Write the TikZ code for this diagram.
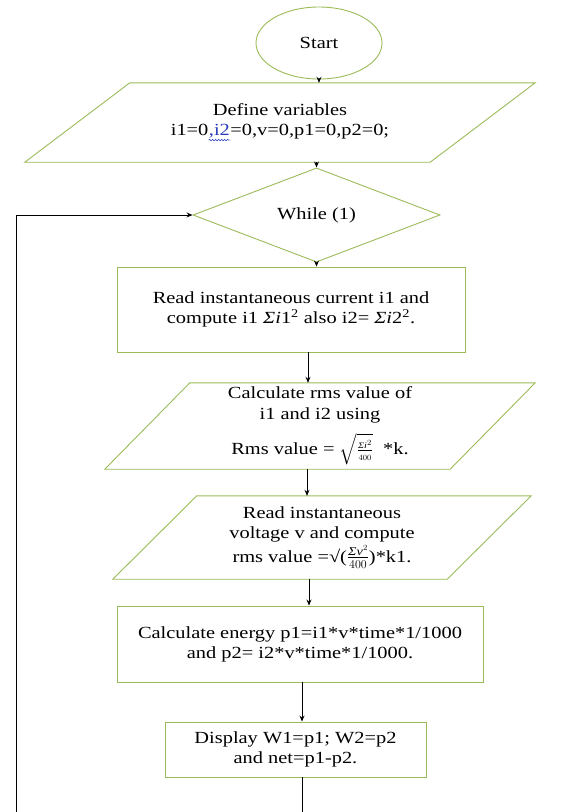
\documentclass[tikz,border=0pt]{standalone}
\usepackage{amsmath}
\usepackage{fontspec}
\setmainfont[FakeStretch=1.2]{Liberation Serif}
\usetikzlibrary{shapes.geometric,arrows.meta,decorations.pathmorphing}
\definecolor{boxgreen}{RGB}{155,187,89}
\definecolor{spellblue}{RGB}{40,60,190}

\tikzset{
  shapeline/.style={draw=boxgreen, line width=0.9pt},
  box/.style={shapeline, rectangle, align=center, inner sep=0pt},
  paratext/.style={rectangle, align=center, inner sep=0pt},
  arr/.style={-{Stealth[length=6pt,width=5pt]}, line width=0.9pt},
  spellword/.style={rectangle, draw=none, inner sep=0pt, minimum width=0pt, minimum height=0pt, text=spellblue},
  squiggle/.style={draw=spellblue, line width=0.6pt, decorate, decoration={snake, amplitude=0.8pt, segment length=3pt}}
}

\begin{document}
\begin{tikzpicture}[x=1pt, y=-1pt, font=\fontsize{17}{20}\selectfont]
    \useasboundingbox (0,0) rectangle (566,812);
    % Nodes
    \node[shapeline, ellipse, minimum width=126pt, minimum height=72pt] (start) at (319,43) {Start};
    \node[paratext, minimum width=405pt, minimum height=79pt] (define) at (280,122.5) {Define variables\\ i1=0\tikz[baseline=(sp.base)]{\node[spellword] (sp) {,i2}; \draw[squiggle] ([yshift=-1.5pt]sp.south west) -- ([yshift=-1.5pt]sp.south east);}=0,v=0,p1=0,p2=0;};
    \node[shapeline, diamond, minimum width=247pt, minimum height=78pt, inner sep=0pt] (while) at (316.5,215) {While (1)};
    \node[box, minimum width=348pt, minimum height=85pt] (readi) at (291,309.5) {Read instantaneous current i1 and\\ compute i1 {\itshape Σi}1\textsuperscript{2} also i2= {\itshape Σi}2\textsuperscript{2}.};
    \node[paratext, minimum width=345pt, minimum height=86pt] (rmsi) at (320,426) {Calculate rms value of\\[1pt] i1 and i2 using\\[9pt] Rms value = $\sqrt{\frac{\scriptscriptstyle\text{\itshape Σi}^2}{\scriptscriptstyle 400}}$ \ *k.};
    \node[paratext, minimum width=334pt, minimum height=83pt] (readv) at (322,537.5) {Read instantaneous\\ voltage v and compute\\[2pt] rms value =√($\tfrac{\text{\itshape Σv}^2}{400}$)*k1.};
    \node[box, minimum width=366pt, minimum height=76pt] (energy) at (300,644) {Calculate energy p1=i1*v*time*1/1000\\ and p2= i2*v*time*1/1000.};
    \node[box, minimum width=261pt, minimum height=55pt] (display) at (295.5,749.5) {Display W1=p1; W2=p2\\ and net=p1-p2.};
    \coordinate (loopend) at (16,812);

    % Parallelograms
    \draw[shapeline] ([xshift=-52.5pt]define.south west) -- ([xshift=-52.5pt]define.south east)
        -- ([xshift=52.5pt]define.north east) -- ([xshift=52.5pt]define.north west) -- cycle;
    \draw[shapeline] ([xshift=-42.5pt]rmsi.south west) -- ([xshift=-42.5pt]rmsi.south east)
        -- ([xshift=42.5pt]rmsi.north east) -- ([xshift=42.5pt]rmsi.north west) -- cycle;
    \draw[shapeline] ([xshift=-42pt]readv.south west) -- ([xshift=-42pt]readv.south east)
        -- ([xshift=42pt]readv.north east) -- ([xshift=42pt]readv.north west) -- cycle;

    % Arrows
    \draw[arr] (start.south) -- (start.south |- define.north);
    \draw[arr] (while.north |- define.south) -- (while.north);
    \draw[arr] (while.south) -- (while.south |- readi.north);
    \draw[arr] ([xshift=17pt]readi.south) -- ([xshift=17pt]readi.south |- rmsi.north);
    \draw[arr] ([xshift=-13pt]rmsi.south) -- ([xshift=-13pt]rmsi.south |- readv.north);
    \draw[arr] ([xshift=-13pt]readv.south) -- ([xshift=-13pt]readv.south |- energy.north);
    \draw[arr] ([xshift=2pt]energy.south) -- ([xshift=2pt]energy.south |- display.north);
    \draw[line width=0.9pt] ([xshift=7pt]display.south) -- ([xshift=7pt]display.south |- loopend);
    \draw[arr] (loopend) |- (while.west);
\end{tikzpicture}
\end{document}
